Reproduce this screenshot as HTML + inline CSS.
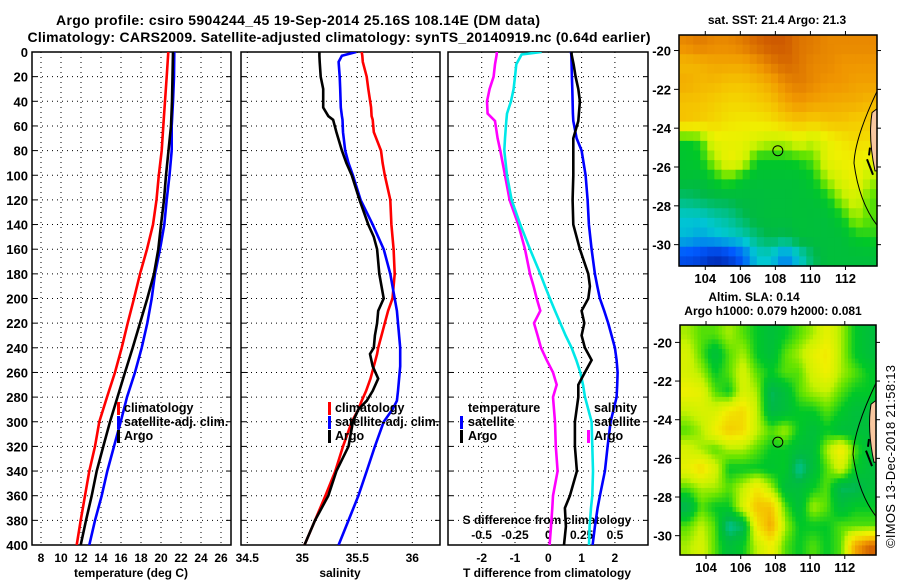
<!DOCTYPE html>
<html><head><meta charset="utf-8"><style>
html,body{margin:0;padding:0;background:#fff}
svg{display:block;font-family:"Liberation Sans",Arial,sans-serif;font-weight:bold}
</style></head><body>
<svg id="fig" width="900" height="580" viewBox="0 0 900 580" xmlns="http://www.w3.org/2000/svg">
<defs>
<clipPath id="c1"><rect x="32" y="52" width="199" height="493"/></clipPath>
<clipPath id="c2"><rect x="241" y="52" width="199" height="493"/></clipPath>
<clipPath id="c3"><rect x="448" y="52" width="200" height="493"/></clipPath>
</defs>
<text x="298" y="25" font-size="14" text-anchor="middle" textLength="484">Argo profile: csiro 5904244_45 19-Sep-2014 25.16S 108.14E (DM data)</text>
<text x="339" y="42" font-size="14" text-anchor="middle" textLength="623">Climatology: CARS2009. Satellite-adjusted climatology: synTS_20140919.nc (0.64d earlier)</text>
</svg>
<script>
// depth grid (m)
const tDepth=[0,20,40,60,80,100,120,140,160,180,200,220,240,260,280,300,320,340,360,380,400];
const tempClim=[20.73,20.57,20.4,20.23,20.07,19.78,19.55,19.2,18.6,17.9,17.3,16.67,16.07,15.4,14.6,13.83,13.4,12.83,12.4,11.97,11.57];
const tempArgo=[21.2,21.15,21.1,21.0,20.75,20.5,20.3,20.0,19.73,19.3,18.63,17.9,17.17,16.4,15.65,14.9,14.23,13.57,13.07,12.5,11.97];
const tempSat=[21.33,21.3,21.2,21.07,21.07,20.85,20.57,20.33,19.9,19.4,19.07,18.63,18.07,17.4,16.6,15.97,15.3,14.63,14.07,13.4,12.83];

const sDepth=[0,3,8,20,30,45,52,55,65,80,90,100,120,140,150,160,180,200,210,220,230,240,245,255,265,275,283,290,300,320,340,360,380,400];
const salClim=[35.54,35.545,35.55,35.585,35.6,35.625,35.63,35.64,35.65,35.715,35.73,35.75,35.8,35.81,35.82,35.83,35.84,35.82,35.78,35.75,35.72,35.69,35.68,35.65,35.62,35.58,35.54,35.51,35.45,35.37,35.3,35.21,35.115,35.02];
const salArgo=[35.155,35.155,35.158,35.167,35.19,35.19,35.236,35.28,35.31,35.36,35.40,35.45,35.52,35.6,35.65,35.68,35.70,35.74,35.69,35.68,35.66,35.65,35.615,35.64,35.69,35.64,35.585,35.51,35.46,35.42,35.31,35.236,35.115,35.02];
const salSat=[35.49,35.36,35.33,35.34,35.345,35.35,35.36,35.365,35.37,35.39,35.42,35.46,35.53,35.64,35.69,35.74,35.8,35.84,35.86,35.87,35.88,35.89,35.89,35.89,35.88,35.87,35.86,35.82,35.74,35.66,35.585,35.51,35.42,35.33];

const dDepth=[0,2,10,20,30,40,50,56,70,80,100,120,140,160,180,190,200,210,220,230,240,250,260,270,280,300,320,340,360,370,385,400];
const tDiffArgo=[0.7,0.7,0.76,0.82,0.9,0.95,0.92,0.9,0.75,0.75,0.75,0.73,0.75,0.95,1.2,1.25,1.2,1.0,1.08,1.0,1.1,1.3,1.1,0.9,0.9,0.8,0.8,0.86,0.65,0.5,0.53,0.47];
const tDiffSat=[0.68,0.69,0.7,0.71,0.72,0.73,0.74,0.75,0.85,1.0,1.12,1.18,1.22,1.3,1.4,1.47,1.55,1.68,1.8,1.9,2.0,2.05,2.08,2.07,2.05,1.87,1.78,1.7,1.55,1.48,1.4,1.33];
const sDiffArgo=[-0.387,-0.387,-0.4,-0.41,-0.44,-0.46,-0.455,-0.4,-0.38,-0.36,-0.325,-0.29,-0.225,-0.175,-0.137,-0.11,-0.087,-0.06,-0.107,-0.08,-0.055,-0.012,0.035,0.063,0.035,0.05,0.056,0.07,0.035,0.03,0.02,0.01];
const sDiffSat=[-0.05,-0.2,-0.24,-0.25,-0.26,-0.28,-0.31,-0.315,-0.325,-0.33,-0.31,-0.275,-0.21,-0.137,-0.06,-0.025,0.012,0.05,0.09,0.13,0.175,0.21,0.24,0.26,0.275,0.325,0.33,0.335,0.33,0.32,0.31,0.305];

const tTicks=[8,10,12,14,16,18,20,22,24,26];
const sTicks=[34.5,35,35.5,36];
const sTickLabels=['34.5','35','35.5','36'];
const dTicks=[0,20,40,60,80,100,120,140,160,180,200,220,240,260,280,300,320,340,360,380,400];
const tdTicks=[-2,-1,0,1,2];
const sdTicks=[-0.5,-0.25,0,0.25,0.5];
const sdTickLabels=['-0.5','-0.25','0','0.25','0.5'];
const lonTicks=[104,106,108,110,112];
const latTicks=[-20,-22,-24,-26,-28,-30];

// maps: 12 rows (north->south) x 14 cols, normalized colour index 0..1
const sstGrid=[
[0.9,0.92,0.9,0.9,0.92,0.95,0.97,0.97,0.93,0.92,0.9,0.9,0.9,0.9],
[0.82,0.83,0.85,0.85,0.85,0.88,0.92,0.95,0.93,0.9,0.9,0.88,0.88,0.88],
[0.84,0.82,0.82,0.8,0.8,0.82,0.85,0.9,0.92,0.9,0.88,0.88,0.86,0.86],
[0.8,0.8,0.78,0.76,0.76,0.78,0.8,0.85,0.88,0.86,0.85,0.84,0.84,0.82],
[0.8,0.78,0.76,0.73,0.72,0.72,0.74,0.78,0.8,0.78,0.8,0.8,0.78,0.78],
[0.5,0.52,0.68,0.68,0.68,0.65,0.62,0.62,0.66,0.62,0.68,0.72,0.75,0.74],
[0.48,0.5,0.6,0.7,0.66,0.5,0.5,0.5,0.52,0.55,0.68,0.7,0.7,0.68],
[0.46,0.45,0.5,0.55,0.48,0.46,0.46,0.46,0.46,0.5,0.6,0.66,0.7,0.6],
[0.38,0.4,0.42,0.42,0.44,0.44,0.45,0.45,0.46,0.46,0.5,0.6,0.65,0.55],
[0.3,0.3,0.33,0.35,0.4,0.44,0.45,0.45,0.46,0.45,0.45,0.5,0.6,0.55],
[0.28,0.25,0.28,0.3,0.32,0.38,0.42,0.4,0.45,0.45,0.45,0.45,0.5,0.52],
[0.12,0.1,0.05,0.08,0.15,0.3,0.3,0.2,0.3,0.4,0.45,0.45,0.45,0.45]];
const slaGrid=[
[0.6,0.55,0.55,0.6,0.55,0.5,0.45,0.5,0.55,0.6,0.68,0.6,0.5,0.45],
[0.65,0.55,0.45,0.55,0.6,0.5,0.45,0.55,0.6,0.68,0.72,0.6,0.5,0.45],
[0.65,0.6,0.5,0.55,0.65,0.55,0.5,0.55,0.55,0.65,0.7,0.6,0.55,0.5],
[0.7,0.68,0.55,0.5,0.65,0.6,0.4,0.45,0.55,0.6,0.62,0.55,0.5,0.5],
[0.62,0.65,0.65,0.72,0.75,0.62,0.42,0.45,0.5,0.5,0.55,0.5,0.45,0.45],
[0.55,0.6,0.7,0.78,0.75,0.62,0.55,0.6,0.5,0.45,0.5,0.45,0.45,0.45],
[0.65,0.6,0.55,0.6,0.6,0.55,0.5,0.5,0.45,0.45,0.6,0.72,0.55,0.45],
[0.68,0.75,0.65,0.5,0.5,0.5,0.48,0.5,0.35,0.45,0.55,0.65,0.5,0.45],
[0.55,0.6,0.6,0.55,0.62,0.72,0.6,0.45,0.45,0.5,0.55,0.4,0.4,0.45],
[0.4,0.55,0.5,0.5,0.65,0.8,0.8,0.55,0.45,0.6,0.55,0.45,0.5,0.5],
[0.55,0.62,0.55,0.35,0.4,0.72,0.85,0.6,0.5,0.5,0.5,0.55,0.55,0.55],
[0.6,0.65,0.55,0.45,0.5,0.62,0.7,0.55,0.5,0.55,0.5,0.55,0.85,0.95]];
const argoLon=108.14, argoLat=-25.16;

const svg=document.getElementById('fig');
const NS='http://www.w3.org/2000/svg';
function mk(tag,attrs,name,parent){
  const e=document.createElementNS(NS,tag);
  for(const k in attrs) e.setAttribute(k,attrs[k]);
  
  
  (parent||svg).appendChild(e);
  return e;
}
function txt(x,y,s,name,opts){
  const o=Object.assign({x:x,y:y,'font-size':12},opts||{});
  const e=mk('text',o,name);
  e.textContent=s;
  return e;
}
const yD=d=>52+d*493/400;
const xT=t=>41+(t-8)*10;
const xS=s=>302.3+(s-35)*110;
const xTD=v=>548.3+v*33.3;
const xSD=v=>548.3+v*133.3;

function panelFrame(x0,x1,vgrid,key){
  dTicks.forEach(d=>{
    if(d>0&&d<400) mk('line',{x1:x0,x2:x1,y1:yD(d),y2:yD(d),stroke:'#000','stroke-width':1,'stroke-dasharray':'1,4'},key+'-hgrid');
    mk('line',{x1:x0,x2:x0+5,y1:yD(d),y2:yD(d),stroke:'#000','stroke-width':1},key+'-ytick');
    mk('line',{x1:x1-5,x2:x1,y1:yD(d),y2:yD(d),stroke:'#000','stroke-width':1},key+'-ytick-right');
  });
  vgrid.forEach(x=>{
    if(x>x0+2&&x<x1-2) mk('line',{x1:x,x2:x,y1:52,y2:545,stroke:'#000','stroke-width':1,'stroke-dasharray':'1,4'},key+'-vgrid');
  });
  mk('rect',{x:x0,y:52,width:x1-x0,height:493,fill:'none',stroke:'#000','stroke-width':1.5},key+'-frame');
}
panelFrame(32,231,tTicks.map(xT),'temp-panel');
panelFrame(241,440,sTicks.map(xS),'salinity-panel');
panelFrame(448,648,tdTicks.map(xTD),'diff-panel');

dTicks.forEach(d=>{ txt(28,yD(d)+5,String(d),'depth-tick-label',{'text-anchor':'end','font-size':13}); });
tTicks.forEach(t=>{ txt(xT(t),562,String(t),'temp-tick-label',{'text-anchor':'middle'}); });
sTicks.forEach((s,i)=>{ txt(xS(s),562,sTickLabels[i],'salinity-tick-label',{'text-anchor':'middle'}); });
tdTicks.forEach(v=>{ txt(xTD(v),562,String(v),'tdiff-tick-label',{'text-anchor':'middle'}); });
sdTicks.forEach((v,i)=>{ txt(xSD(v),539,sdTickLabels[i],'sdiff-tick-label',{'text-anchor':'middle'}); });
txt(131,577,'temperature (deg C)','temp-axis-title',{'text-anchor':'middle'});
txt(340,577,'salinity','salinity-axis-title',{'text-anchor':'middle'});
txt(547,577,'T difference from climatology','tdiff-axis-title',{'text-anchor':'middle'});
txt(547,524,'S difference from climatology','sdiff-axis-title',{'text-anchor':'middle'});

function series(depths,vals,xf,color,clip,name,w){
  const pts=depths.map((d,i)=>xf(vals[i]).toFixed(1)+','+yD(d).toFixed(1)).join(' ');
  mk('polyline',{points:pts,fill:'none',stroke:color,'stroke-width':w||2.6,'clip-path':'url(#'+clip+')','stroke-linejoin':'miter'},name);
}
series(tDepth,tempClim,xT,'#ff0000','c1','temp-climatology-line');
series(tDepth,tempSat,xT,'#0000ff','c1','temp-satellite-line');
series(tDepth,tempArgo,xT,'#000000','c1','temp-argo-line');
series(sDepth,salClim,xS,'#ff0000','c2','salinity-climatology-line');
series(sDepth,salSat,xS,'#0000ff','c2','salinity-satellite-line');
series(sDepth,salArgo,xS,'#000000','c2','salinity-argo-line');
series(dDepth,sDiffArgo,xSD,'#ff00ff','c3','sdiff-argo-line');
series(dDepth,sDiffSat,xSD,'#00e8e8','c3','sdiff-satellite-line');
series(dDepth,tDiffSat,xTD,'#0000ff','c3','tdiff-satellite-line');
series(dDepth,tDiffArgo,xTD,'#000000','c3','tdiff-argo-line');

function legendItem(mx,tx,y,color,label,name){
  if(color) mk('rect',{x:mx,y:y-10,width:3,height:13,fill:color},name+'-marker');
  txt(tx,y,label,name,{'font-size':12.5});
}
legendItem(117,124,412,'#ff0000','climatology','temp-legend-climatology');
legendItem(117,124,426,'#0000ff','satellite-adj. clim.','temp-legend-satellite');
legendItem(117,124,440,'#000000','Argo','temp-legend-argo');
legendItem(328,335,412,'#ff0000','climatology','sal-legend-climatology');
legendItem(328,335,426,'#0000ff','satellite-adj. clim.','sal-legend-satellite');
legendItem(328,335,440,'#000000','Argo','sal-legend-argo');
legendItem(0,468,412,null,'temperature','diff-legend-temperature');
legendItem(460,468,426,'#0000ff','satellite','diff-legend-t-satellite');
legendItem(460,468,440,'#000000','Argo','diff-legend-t-argo');
legendItem(0,594,412,null,'salinity','diff-legend-salinity');
legendItem(0,594,426,null,'satellite','diff-legend-s-satellite');
legendItem(587,594,440,'#ff00ff','Argo','diff-legend-s-argo');

const cstops=[[0,[0,24,150]],[0.15,[0,90,255]],[0.3,[0,200,210]],[0.42,[0,185,70]],[0.5,[0,200,40]],[0.56,[100,228,0]],[0.62,[200,242,0]],[0.7,[240,240,0]],[0.8,[245,195,0]],[0.88,[240,150,0]],[1,[195,70,0]]];
function cmap(v){
  for(let i=1;i<cstops.length;i++){
    if(v<=cstops[i][0]){
      const a=cstops[i-1],b=cstops[i],f=(v-a[0])/(b[0]-a[0]);
      const c=a[1].map((x,j)=>Math.round(x+(b[1][j]-x)*f));
      return 'rgb('+c.join(',')+')';
    }
  }
  return 'rgb(195,70,0)';
}
function sample(grid,r,c){
  const R=grid.length-1,C=grid[0].length-1;
  r=Math.max(0,Math.min(R,r));c=Math.max(0,Math.min(C,c));
  const r0=Math.floor(r),c0=Math.floor(c),r1=Math.min(R,r0+1),c1=Math.min(C,c0+1),fr=r-r0,fc=c-c0;
  return grid[r0][c0]*(1-fr)*(1-fc)+grid[r0][c1]*(1-fr)*fc+grid[r1][c0]*fr*(1-fc)+grid[r1][c1]*fr*fc;
}
function drawMap(x0,x1,y0,y1,grid,key,latTop,latBot,sub){
  const lonL=102.5,lonR=113.8;
  const xL=lon=>x0+(lon-lonL)/(lonR-lonL)*(x1-x0);
  const yL=lat=>y0+(latTop-lat)/(latTop-latBot)*(y1-y0);
  const rows=grid.length*sub,cols=grid[0].length*sub;
  const cw=(x1-x0)/cols,ch=(y1-y0)/rows;
  for(let r=0;r<rows;r++)for(let c=0;c<cols;c++){
    const v=sample(grid,(r+0.5)/sub-0.5,(c+0.5)/sub-0.5);
    mk('rect',{x:(x0+c*cw).toFixed(2),y:(y0+r*ch).toFixed(2),width:(cw+0.6).toFixed(2),height:(ch+0.6).toFixed(2),fill:cmap(v)},key+'-cell');
  }
  const ly=lat=>yL(lat);
  mk('path',{d:`M${x1-5},${ly(-23.2)} Q${x1-9},${ly(-24.5)} ${x1-2},${ly(-26.2)} L${x1},${ly(-26.2)} L${x1},${ly(-23)} Z`,fill:'#f8c8a0',stroke:'#000','stroke-width':1},key+'-land');
  mk('path',{d:`M${x1},${ly(-22.1)} Q${x1-22},${ly(-24.5)} ${x1-23},${ly(-25.8)} Q${x1-18},${ly(-27.8)} ${x1},${ly(-29)}`,fill:'none',stroke:'#000','stroke-width':1},key+'-contour');
  mk('path',{d:`M${x1-10},${ly(-25.6)} L${x1-4},${ly(-26.4)} M${x1-7},${ly(-25)} L${x1-8},${ly(-25.4)}`,fill:'none',stroke:'#000','stroke-width':2},key+'-islands');
  mk('circle',{cx:xL(argoLon),cy:yL(argoLat),r:5,fill:'none',stroke:'#000','stroke-width':1},key+'-argo-location');
  mk('rect',{x:x0,y:y0,width:x1-x0,height:y1-y0,fill:'none',stroke:'#000','stroke-width':1.5},key+'-frame');
  latTicks.forEach(l=>{
    mk('line',{x1:x0-5,x2:x0,y1:yL(l),y2:yL(l),stroke:'#000'},key+'-lat-tick');
    mk('line',{x1:x1,x2:x1+4,y1:yL(l),y2:yL(l),stroke:'#000'},key+'-lat-tick-right');
    txt(x0-8,yL(l)+5,String(l),key+'-lat-label',{'text-anchor':'end','font-size':13});
  });
  lonTicks.forEach(l=>{
    mk('line',{x1:xL(l),x2:xL(l),y1:y1,y2:y1+4,stroke:'#000'},key+'-lon-tick');
    mk('line',{x1:xL(l),x2:xL(l),y1:y0-4,y2:y0,stroke:'#000'},key+'-lon-tick-top');
    txt(xL(l),y1+17,String(l),key+'-lon-label',{'text-anchor':'middle','font-size':13});
  });
}
drawMap(679,877,35,266,sstGrid,'sst-map',-19.2,-31.1,2);
drawMap(680,876,325,555,slaGrid,'sla-map',-19.1,-31.0,4);
txt(777,24,'sat. SST: 21.4 Argo: 21.3','sst-map-title',{'text-anchor':'middle'});
txt(754,301,'Altim. SLA: 0.14','sla-map-title',{'text-anchor':'middle'});
txt(773,315,'Argo h1000: 0.079 h2000: 0.081','sla-map-subtitle',{'text-anchor':'middle'});
txt(0,0,'©IMOS 13-Dec-2018 21:58:13','copyright-label',{'font-size':13,'font-weight':'normal',textLength:183,transform:'translate(895,548) rotate(-90)'});
</script>
</body></html>
